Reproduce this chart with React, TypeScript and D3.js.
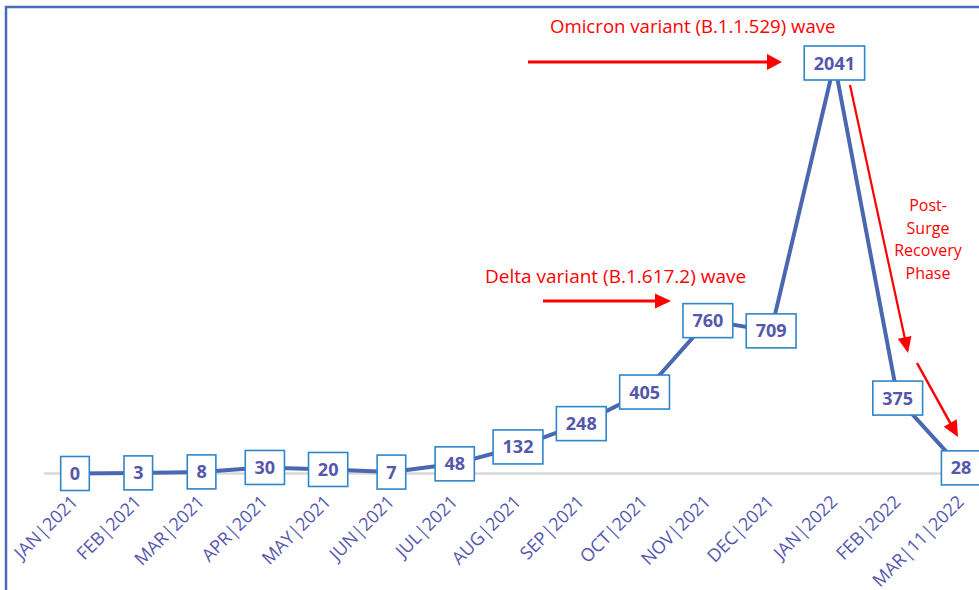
import React from "react";
import * as d3 from "d3";

const categories = [
  "JAN|2021", "FEB|2021", "MAR|2021", "APR|2021", "MAY|2021", "JUN|2021",
  "JUL|2021", "AUG|2021", "SEP|2021", "OCT|2021", "NOV|2021", "DEC|2021",
  "JAN|2022", "FEB|2022", "MAR|11|2022",
];
const values = [0, 3, 8, 30, 20, 7, 48, 132, 248, 405, 760, 709, 2041, 375, 28];

const omicronLabel = "Omicron variant (B.1.1.529) wave";
const deltaLabel = "Delta variant (B.1.617.2) wave";
const recoveryLines = ["Post-", "Surge", "Recovery", "Phase"];

const W = 979;
const H = 590;
const RED = "#ff0000";
const LINE = "#4A68B2";
const TXT = "#5557AE";
const BOX = "#2E86CB";

function Arrow({ x1, y1, x2, y2, sw, hl, hw }: any) {
  const ang = Math.atan2(y2 - y1, x2 - x1);
  const bx = x2 - hl * Math.cos(ang);
  const by = y2 - hl * Math.sin(ang);
  const px = -Math.sin(ang) * hw;
  const py = Math.cos(ang) * hw;
  return (
    <g>
      <line x1={x1} y1={y1} x2={bx + Math.cos(ang)} y2={by + Math.sin(ang)} stroke={RED} strokeWidth={sw} />
      <polygon points={`${x2},${y2} ${bx + px},${by + py} ${bx - px},${by - py}`} fill={RED} />
    </g>
  );
}

export default function App() {
  const x = d3.scalePoint<string>().domain(categories).range([75, 961]);
  const y = d3.scaleLinear().domain([0, 2041]).range([473.5, 63]);
  const pts = categories.map((c, i) => [x(c) as number, y(values[i])] as [number, number]);
  const line = d3.line<[number, number]>().x((d) => d[0]).y((d) => d[1]);

  return (
    <svg width={W} height={H} style={{ position: "absolute", left: 0, top: 0, background: "#fff" }}
      fontFamily="'Open Sans', sans-serif">
      <rect x={0} y={0} width={W} height={H} fill="#fff" />
      <rect x={6} y={7} width={1200} height={1200} fill="none" stroke="#4A6CB8" strokeWidth={2.5} />
      {/* baseline */}
      <line x1={44} x2={979} y1={y(0)} y2={y(0)} stroke="#D9D9D9" strokeWidth={2.5} />
      {/* data line */}
      <path d={line(pts) || ""} fill="none" stroke={LINE} strokeWidth={4} strokeLinejoin="round" />
      {/* value boxes */}
      {pts.map((p, i) => {
        const s = String(values[i]);
        const w = 18 + 10.6 * s.length;
        return (
          <g key={i}>
            <rect x={p[0] - w / 2} y={p[1] - 17} width={w} height={34} fill="#fff" stroke={BOX} strokeWidth={1.6} />
            <text x={p[0]} y={p[1] + 6.5} textAnchor="middle" fontSize={18} fontWeight="bold" fill={TXT}>{s}</text>
          </g>
        );
      })}
      {/* x labels */}
      {categories.map((c) => (
        <text key={c} transform={`translate(${(x(c) as number) + 4},503) rotate(-45)`} textAnchor="end"
          fontSize={18} fill={TXT}>{c}</text>
      ))}
      {/* annotations */}
      <text x={550} y={33} fontSize={18.6} fill={RED}>{omicronLabel}</text>
      <Arrow x1={528} y1={62} x2={782} y2={62} sw={3} hl={15} hw={8} />
      <text x={485} y={283} fontSize={19} fill={RED}>{deltaLabel}</text>
      <Arrow x1={543} y1={301} x2={671} y2={301} sw={3} hl={16} hw={7.5} />
      <Arrow x1={850} y1={85} x2={908} y2={353} sw={2.2} hl={16} hw={7} />
      <Arrow x1={917} y1={363} x2={958} y2={437} sw={2.5} hl={16} hw={7.5} />
      {recoveryLines.map((t, i) => (
        <text key={t} x={928} y={211 + 22.7 * i} textAnchor="middle" fontSize={16} fill={RED}>{t}</text>
      ))}
    </svg>
  );
}
